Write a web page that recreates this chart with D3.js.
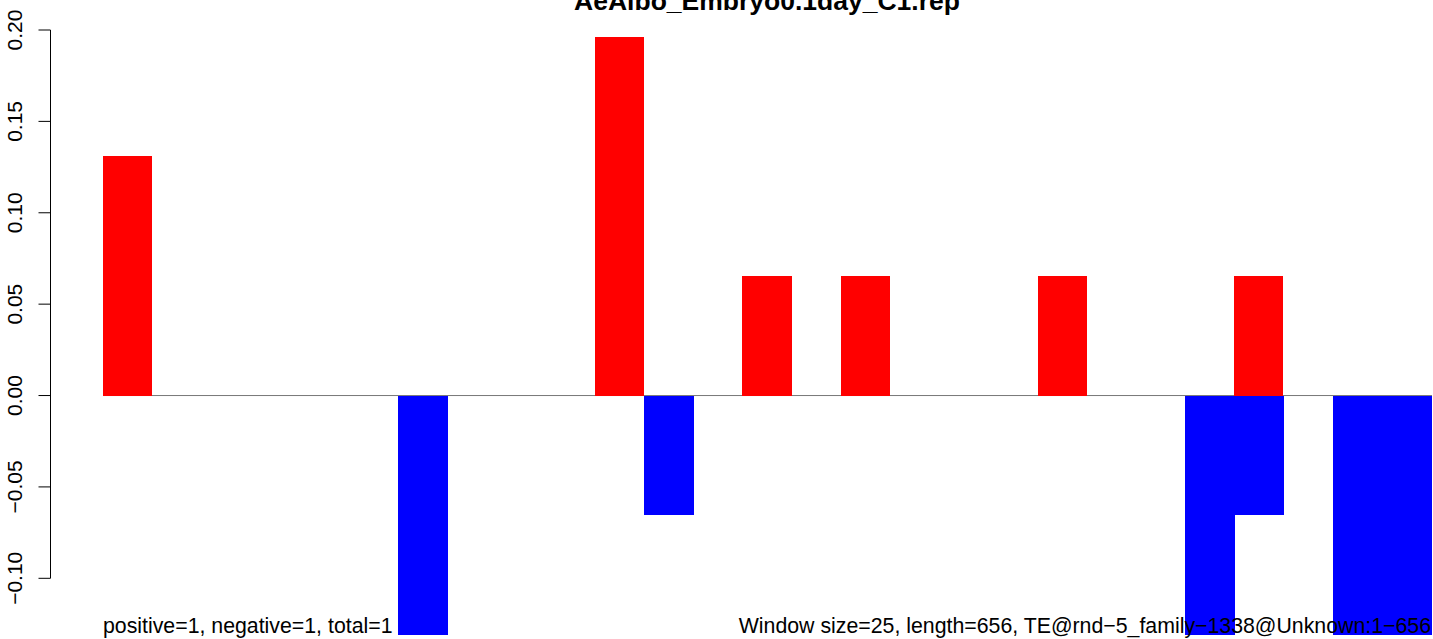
<!DOCTYPE html>
<html><head><meta charset="utf-8">
<script src="https://cdn.jsdelivr.net/npm/d3@7"></script>
<style>body{margin:0;background:#fff}svg{display:block}text{font-family:"Liberation Sans",Arial,sans-serif}</style>
</head><body>
<script>
const title = "AeAlbo_Embryo0.1day_C1.rep";
const windows = d3.range(27);
const positiveValues = [0.1308,0,0,0,0,0,0,0,0,0,0.1962,0,0,0.0654,0,0.0654,0,0,0,0.0654,0,0,0,0.0654,0,0,0];
const negativeValues = [0,0,0,0,0,0,-0.1308,0,0,0,0,-0.0654,0,0,0,0,0,0,0,0,0,0,-0.1308,-0.0654,0,-0.1308,-0.1308];
const yTicks = [-0.10,-0.05,0.00,0.05,0.10,0.15,0.20];
const leftNote = "positive=1, negative=1, total=1";
const rightNote = "Window size=25, length=656, TE@rnd\u22125_family\u22121338@Unknown:1\u2212656";

const W = 1433, H = 639;
const svg = d3.select("body").append("svg").attr("width", W).attr("height", H);
const x = d3.scaleBand().domain(windows).range([103, 1431]).padding(0);
const y = d3.scaleLinear().domain([-0.10, 0.20]).range([578.3, 30]);

// zero line
svg.append("line").attr("x1", 103).attr("x2", 1432).attr("y1", y(0)).attr("y2", y(0))
  .attr("stroke", "#777").attr("stroke-width", 1);

svg.append("g").attr("shape-rendering", "crispEdges").selectAll("rect")
  .data(windows.filter(i => positiveValues[i] > 0)).join("rect")
  .attr("x", i => x(i)).attr("width", x.bandwidth())
  .attr("y", i => y(positiveValues[i])).attr("height", i => y(0) - y(positiveValues[i]))
  .attr("fill", "#ff0000");
svg.append("g").attr("shape-rendering", "crispEdges").selectAll("rect")
  .data(windows.filter(i => negativeValues[i] < 0)).join("rect")
  .attr("x", i => x(i)).attr("width", x.bandwidth() + 0.5)
  .attr("y", y(0)).attr("height", i => y(negativeValues[i]) - y(0))
  .attr("fill", "#0000ff");

// y axis
const ax = svg.append("g").attr("transform", "translate(50.5,0)");
ax.append("line").attr("y1", y(0.20)).attr("y2", y(-0.10)).attr("stroke", "#000");
yTicks.forEach(t => {
  ax.append("line").attr("x1", -12).attr("x2", 0).attr("y1", y(t)).attr("y2", y(t)).attr("stroke", "#000");
  ax.append("text").attr("transform", `translate(-28.5,${y(t)}) rotate(-90)`)
    .attr("text-anchor", "middle").attr("font-size", 21)
    .text(d3.format(".2f")(t).replace("-", "\u2212"));
});

svg.append("text").attr("x", 767).attr("y", 10).attr("text-anchor", "middle")
  .attr("font-weight", "bold").attr("font-size", 26.5).text(title);
svg.append("text").attr("x", 103).attr("y", 633).attr("font-size", 21.3).text(leftNote);
svg.append("text").attr("x", 1431).attr("y", 633).attr("text-anchor", "end").attr("font-size", 21.3).text(rightNote);
</script>
</body></html>
